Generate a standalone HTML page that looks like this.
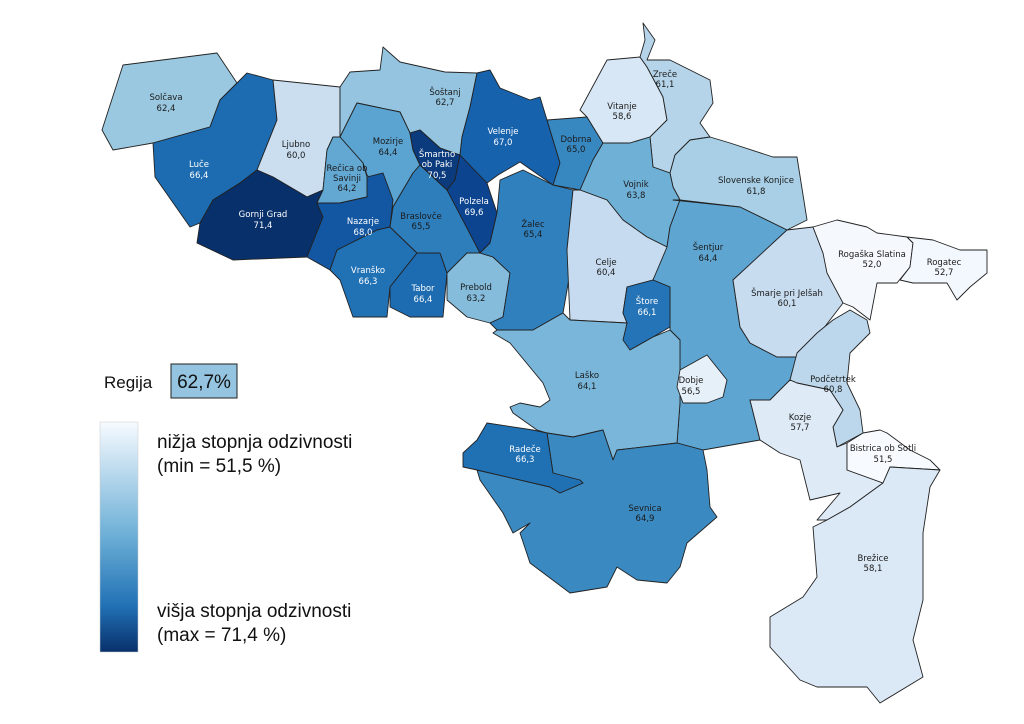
<!DOCTYPE html>
<html><head><meta charset="utf-8"><style>
html,body{margin:0;padding:0;background:#fff;}
svg{display:block;font-family:"DejaVu Sans","Liberation Sans",sans-serif;}
.p{stroke:#222;stroke-width:0.9;stroke-linejoin:round;}
.l{font-size:8.5px;text-anchor:middle;fill:#1a1a1a;}
.w{fill:#fff;}
.lg{font-family:"Liberation Sans",sans-serif;font-size:19px;fill:#111;}
</style></head><body>
<svg width="1024" height="724" viewBox="0 0 1024 724">
<defs><linearGradient id="g" x1="0" y1="0" x2="0" y2="1"><stop offset="0" stop-color="#f7fbff"/><stop offset="0.5" stop-color="#6baed6"/><stop offset="0.8" stop-color="#2171b5"/><stop offset="1" stop-color="#08306b"/></linearGradient></defs>
<!-- regions -->
<polygon class="p" fill="#9ac8e0" points="102,130 123,65 217,53 237,83 220,100 210,127 153,143 113,150"/>
<polygon class="p" fill="#1d6cb1" points="153,143 210,127 220,100 247,73 273,80 277,120 257,170 240,183 213,200 200,223 190,227 155,177"/>
<polygon class="p" fill="#cadef0" points="273,80 340,87 340,137 333,137 327,150 323,190 307,197 273,177 257,170 277,120"/>
<polygon class="p" fill="#08306b" points="257,170 273,177 307,197 323,190 317,203 323,217 307,257 233,260 197,243 200,223 213,200 240,183"/>
<polygon class="p" fill="#94c4df" points="340,87 350,72 380,70 383,47 400,62 445,72 477,73 470,107 462,137 460,155 440,148 420,130 410,133 400,112 357,103 340,137"/>
<polygon class="p" fill="#5ba3d0" points="340,137 357,103 400,112 410,133 413,150 420,165 413,173 393,207 380,190 367,175 363,163"/>
<polygon class="p" fill="#63a8d3" points="333,137 340,137 363,163 367,177 367,197 340,203 317,203 323,190 327,150"/>
<polygon class="p" fill="#1357a2" points="367,177 383,173 393,200 390,227 377,230 337,250 330,270 307,257 323,217 317,203 340,203 367,197"/>
<polygon class="p" fill="#2171b5" points="330,270 337,250 377,230 390,227 417,253 390,287 387,317 353,317 340,280"/>
<polygon class="p" fill="#1d6cb1" points="417,253 440,253 447,273 443,317 410,317 390,307 390,287"/>
<polygon class="p" fill="#2e7ebc" points="413,173 420,165 433,177 447,190 453,200 480,253 467,253 447,273 440,253 417,253 390,227 393,207"/>
<polygon class="p" fill="#0b3a7d" points="410,133 420,130 440,148 460,155 455,180 447,190 433,177 420,165 413,150"/>
<polygon class="p" fill="#0d4490" points="460,155 487,183 497,213 490,243 480,253 447,190 455,180"/>
<polygon class="p" fill="#1762ad" points="477,73 490,70 500,88 530,100 540,97 547,120 560,163 553,185 520,162 498,175 487,183 460,155 462,137 470,107"/>
<polygon class="p" fill="#85bcdc" points="467,253 480,253 493,257 510,273 503,317 490,323 467,317 447,300 447,273"/>
<polygon class="p" fill="#3080bd" points="497,213 500,180 523,170 553,185 573,190 567,250 570,273 563,313 533,330 497,330 490,323 503,317 510,273 493,257 480,253 490,243"/>
<polygon class="p" fill="#3787c0" points="547,120 587,117 603,143 593,160 580,190 553,185 560,163"/>
<polygon class="p" fill="#d8e7f5" points="580,110 607,60 640,57 647,67 663,97 667,120 650,137 630,143 603,143 587,117"/>
<polygon class="p" fill="#b5d4e9" points="643,23 655,40 647,60 670,60 710,80 713,103 700,123 710,137 690,140 675,155 670,173 653,167 650,137 667,120 663,97 647,67 640,57 645,40"/>
<polygon class="p" fill="#a8cfe5" points="710,137 730,143 773,157 797,157 807,220 787,230 740,207 680,200 673,187 670,173 675,155 690,140"/>
<polygon class="p" fill="#6fb0d7" points="603,143 630,143 650,137 653,167 670,173 673,187 680,200 670,227 667,247 647,237 623,220 607,200 580,190 593,160"/>
<polygon class="p" fill="#c6dbef" points="580,190 607,200 623,220 647,237 667,247 667,250 653,280 627,287 623,313 627,323 570,320 567,250 573,190"/>
<polygon class="p" fill="#5ea5d1" points="673,200 740,207 787,230 763,253 733,280 740,327 750,343 777,357 797,357 790,380 770,400 750,400 760,440 703,450 677,443 680,403 680,340 670,330 670,287 653,280 667,247 670,227 680,200"/>
<polygon class="p" fill="#2474b7" points="627,287 653,280 670,287 670,327 653,337 630,350 618,345 623,330 627,323 623,313"/>
<polygon class="p" fill="#7ab6d9" points="497,330 533,330 563,313 570,320 627,323 623,340 630,350 653,337 670,330 680,340 680,403 677,443 617,450 613,460 603,430 573,437 547,433 537,430 513,413 510,407 520,403 540,407 550,400 543,383 510,343 493,333"/>
<polygon class="p" fill="#e6f0f9" points="680,370 707,355 727,380 723,397 707,403 683,403 677,387"/>
<polygon class="p" fill="#3a89c1" points="547,433 573,437 603,430 613,460 617,450 677,443 703,450 707,470 710,507 717,517 687,543 680,567 667,583 637,580 617,567 607,587 570,593 530,563 520,533 530,523 513,533 503,513 480,480 477,470 550,487 560,493 583,483 553,473"/>
<polygon class="p" fill="#2070b4" points="463,453 477,440 487,423 533,430 547,433 553,473 580,480 583,483 560,493 550,487 477,470 463,467"/>
<polygon class="p" fill="#c8dcf0" points="733,280 787,230 813,227 823,253 843,303 820,333 800,353 797,357 777,357 750,343 740,327"/>
<polygon class="p" fill="#bcd7eb" points="797,353 817,333 833,320 850,310 867,320 870,333 850,353 847,383 860,410 863,433 837,447 833,427 843,410 830,390 797,383 790,380"/>
<polygon class="p" fill="#deebf7" points="790,380 797,383 830,390 843,410 833,427 837,447 847,443 847,470 883,483 850,507 827,520 817,520 840,493 810,500 800,460 780,453 760,440 750,400 770,400"/>
<polygon class="p" fill="#f7fbff" points="847,443 863,433 880,430 887,433 910,450 930,460 940,470 890,467 883,483 847,470"/>
<polygon class="p" fill="#dbe9f6" points="883,483 890,467 940,470 930,487 923,533 923,600 913,640 923,677 880,703 867,687 817,687 800,680 770,647 770,617 803,597 817,577 813,527 827,520 850,507"/>
<polygon class="p" fill="#f5f9fe" points="813,227 837,220 850,223 867,227 877,233 907,237 913,243 910,267 897,283 877,283 870,320 853,307 843,303 827,273 823,253"/>
<polygon class="p" fill="#f3f8fe" points="907,237 933,240 960,250 987,250 987,273 970,287 957,300 947,283 913,283 900,280 910,267 913,243"/>
<!-- labels -->
<text class="l" x="166" y="100">Solčava</text><text class="l" x="166" y="111">62,4</text>
<text class="l w" x="199" y="167">Luče</text><text class="l w" x="199" y="178">66,4</text>
<text class="l" x="296" y="147">Ljubno</text><text class="l" x="296" y="158">60,0</text>
<text class="l w" x="263" y="217">Gornji Grad</text><text class="l w" x="263" y="228">71,4</text>
<text class="l" x="445" y="95">Šoštanj</text><text class="l" x="445" y="105">62,7</text>
<text class="l" x="388" y="144">Mozirje</text><text class="l" x="388" y="155">64,4</text>
<text class="l" x="347" y="171">Rečica ob</text><text class="l" x="347" y="181">Savinji</text><text class="l" x="347" y="191">64,2</text>
<text class="l w" x="437" y="157">Šmartno</text><text class="l w" x="437" y="167">ob Paki</text><text class="l w" x="437" y="178">70,5</text>
<text class="l w" x="503" y="134">Velenje</text><text class="l w" x="503" y="145">67,0</text>
<text class="l w" x="474" y="204">Polzela</text><text class="l w" x="474" y="215">69,6</text>
<text class="l w" x="363" y="224">Nazarje</text><text class="l w" x="363" y="235">68,0</text>
<text class="l" x="421" y="219">Braslovče</text><text class="l" x="421" y="229">65,5</text>
<text class="l" x="533" y="227">Žalec</text><text class="l" x="533" y="237">65,4</text>
<text class="l w" x="368" y="273">Vranško</text><text class="l w" x="368" y="284">66,3</text>
<text class="l w" x="423" y="291">Tabor</text><text class="l w" x="423" y="302">66,4</text>
<text class="l" x="476" y="290">Prebold</text><text class="l" x="476" y="301">63,2</text>
<text class="l" x="576" y="142">Dobrna</text><text class="l" x="576" y="152">65,0</text>
<text class="l" x="622" y="109">Vitanje</text><text class="l" x="622" y="119">58,6</text>
<text class="l" x="665" y="77">Zreče</text><text class="l" x="665" y="87">61,1</text>
<text class="l" x="636" y="187">Vojnik</text><text class="l" x="636" y="198">63,8</text>
<text class="l" x="756" y="183">Slovenske Konjice</text><text class="l" x="756" y="194">61,8</text>
<text class="l" x="606" y="265">Celje</text><text class="l" x="606" y="275">60,4</text>
<text class="l" x="708" y="250">Šentjur</text><text class="l" x="708" y="261">64,4</text>
<text class="l w" x="647" y="304">Štore</text><text class="l w" x="647" y="315">66,1</text>
<text class="l" x="787" y="296">Šmarje pri Jelšah</text><text class="l" x="787" y="306">60,1</text>
<text class="l" x="872" y="257">Rogaška Slatina</text><text class="l" x="872" y="267">52,0</text>
<text class="l" x="944" y="265">Rogatec</text><text class="l" x="944" y="275">52,7</text>
<text class="l" x="587" y="378">Laško</text><text class="l" x="587" y="389">64,1</text>
<text class="l" x="691" y="383">Dobje</text><text class="l" x="691" y="394">56,5</text>
<text class="l" x="833" y="382">Podčetrtek</text><text class="l" x="833" y="392">60,8</text>
<text class="l" x="800" y="420">Kozje</text><text class="l" x="800" y="430">57,7</text>
<text class="l" x="883" y="451">Bistrica ob Sotli</text><text class="l" x="883" y="462">51,5</text>
<text class="l w" x="525" y="452">Radeče</text><text class="l w" x="525" y="462">66,3</text>
<text class="l" x="645" y="511">Sevnica</text><text class="l" x="645" y="521">64,9</text>
<text class="l" x="873" y="561">Brežice</text><text class="l" x="873" y="571">58,1</text>
<!-- legend -->
<text class="lg" x="104" y="388" style="font-size:17px">Regija</text>
<rect x="171" y="364" width="66" height="34" fill="#94c4df" stroke="#222" stroke-width="1"/>
<text class="lg" x="204" y="388" text-anchor="middle">62,7%</text>
<rect x="100" y="422" width="38" height="230" fill="url(#g)" stroke="#ccc" stroke-width="0.5"/>
<text class="lg" x="157" y="448">nižja stopnja odzivnosti</text>
<text class="lg" x="157" y="472">(min = 51,5 %)</text>
<text class="lg" x="157" y="617">višja stopnja odzivnosti</text>
<text class="lg" x="157" y="641">(max = 71,4 %)</text>
</svg>
</body></html>
